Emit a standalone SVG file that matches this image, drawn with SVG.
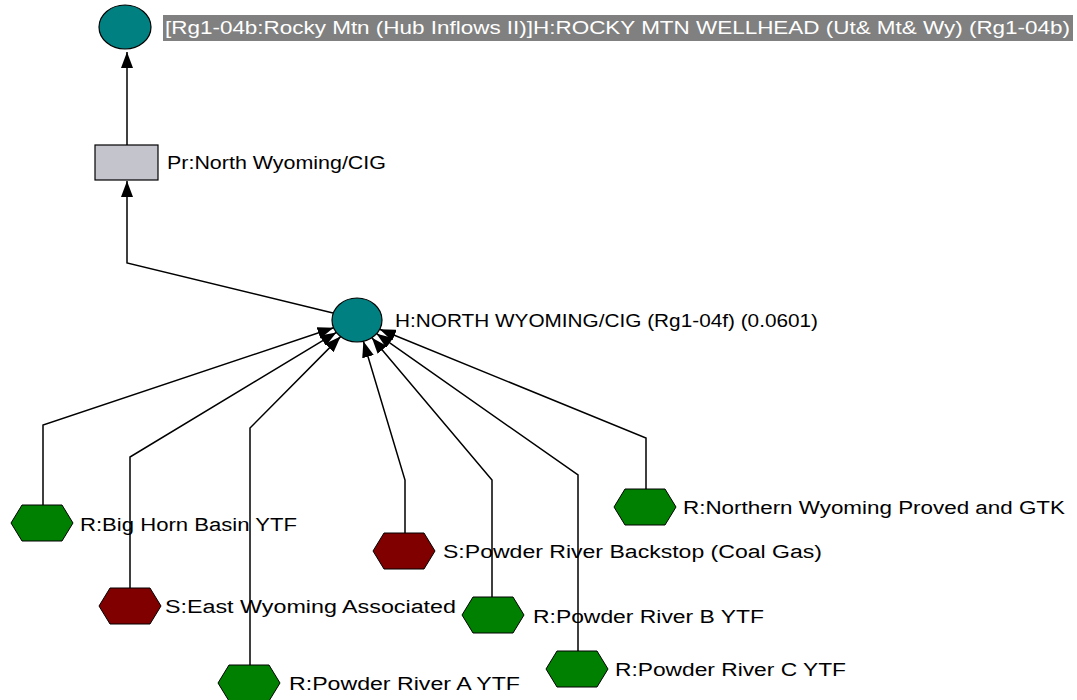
<svg xmlns="http://www.w3.org/2000/svg" width="1077" height="700" viewBox="0 0 1077 700">
<defs>
<style>
.lbl{font-family:"Liberation Sans",Arial,sans-serif;font-size:18px;fill:#000}
.top{fill:#fff}
.edge{fill:none;stroke:#000;stroke-width:1.5}
.hub{fill:#008080;stroke:#000;stroke-width:1.2}
.res{fill:#008000;stroke:#000;stroke-width:1}
.sup{fill:#800000;stroke:#000;stroke-width:1}
.proc{fill:#c4c4cc;stroke:#000;stroke-width:1.2}
</style>
<marker id="ah" markerUnits="userSpaceOnUse" markerWidth="16" markerHeight="12" refX="16" refY="6" orient="auto">
<path d="M0,0 L16,6 L0,12 z" fill="#000"/>
</marker>
<polygon id="hex" points="-31,0 -20,-18 20,-18 31,0 20,18 -20,18"/>
</defs>
<rect width="1077" height="700" fill="#fff"/>
<g id="connectors">
<path class="edge" d="M127,145 L127,52" marker-end="url(#ah)"/>
<path class="edge" d="M333,313 L127,263 L127,181" marker-end="url(#ah)"/>
<path class="edge" d="M43,505 L43,425 L333.6,327.8" marker-end="url(#ah)"/>
<path class="edge" d="M130,588 L130,457 L336.4,332.4" marker-end="url(#ah)"/>
<path class="edge" d="M250,665 L250,428 L340.6,336.6" marker-end="url(#ah)"/>
<path class="edge" d="M405,533 L405,480 L363.4,341.3" marker-end="url(#ah)"/>
<path class="edge" d="M492,597 L492,480 L371.9,337.7" marker-end="url(#ah)"/>
<path class="edge" d="M578,651 L578,475 L376.6,333.7" marker-end="url(#ah)"/>
<path class="edge" d="M646,489 L646,438 L379.7,329.3" marker-end="url(#ah)"/>
</g>
<g id="n-rocky">
<ellipse class="hub" cx="125" cy="27" rx="26" ry="22"/>
<rect x="163" y="15" width="910" height="26" fill="#808080"/>
<text class="lbl top" x="165" y="34" textLength="905" lengthAdjust="spacingAndGlyphs">[Rg1-04b:Rocky Mtn (Hub Inflows II)]H:ROCKY MTN WELLHEAD (Ut&amp; Mt&amp; Wy) (Rg1-04b)</text>
</g>
<g id="n-pr">
<rect class="proc" x="95" y="145" width="63" height="35"/>
<text class="lbl" x="167" y="169" textLength="219" lengthAdjust="spacingAndGlyphs">Pr:North Wyoming/CIG</text>
</g>
<g id="n-hub">
<ellipse class="hub" cx="357" cy="320" rx="25" ry="22"/>
<text class="lbl" x="395" y="327" textLength="423" lengthAdjust="spacingAndGlyphs">H:NORTH WYOMING/CIG (Rg1-04f) (0.0601)</text>
</g>
<g id="n-bighorn">
<use href="#hex" class="res" x="42" y="523"/>
<text class="lbl" x="80" y="531" textLength="217" lengthAdjust="spacingAndGlyphs">R:Big Horn Basin YTF</text>
</g>
<g id="n-eastwy">
<use href="#hex" class="sup" x="130" y="606"/>
<text class="lbl" x="165" y="613" textLength="291" lengthAdjust="spacingAndGlyphs">S:East Wyoming Associated</text>
</g>
<g id="n-pra">
<use href="#hex" class="res" x="249" y="683"/>
<text class="lbl" x="289" y="690" textLength="231" lengthAdjust="spacingAndGlyphs">R:Powder River A YTF</text>
</g>
<g id="n-backstop">
<use href="#hex" class="sup" x="404" y="551"/>
<text class="lbl" x="443" y="558" textLength="379" lengthAdjust="spacingAndGlyphs">S:Powder River Backstop (Coal Gas)</text>
</g>
<g id="n-prb">
<use href="#hex" class="res" x="493" y="615"/>
<text class="lbl" x="533" y="623" textLength="231" lengthAdjust="spacingAndGlyphs">R:Powder River B YTF</text>
</g>
<g id="n-prc">
<use href="#hex" class="res" x="577" y="669"/>
<text class="lbl" x="615" y="676" textLength="231" lengthAdjust="spacingAndGlyphs">R:Powder River C YTF</text>
</g>
<g id="n-northern">
<use href="#hex" class="res" x="645" y="507"/>
<text class="lbl" x="683" y="514" textLength="382" lengthAdjust="spacingAndGlyphs">R:Northern Wyoming Proved and GTK</text>
</g>
</svg>
